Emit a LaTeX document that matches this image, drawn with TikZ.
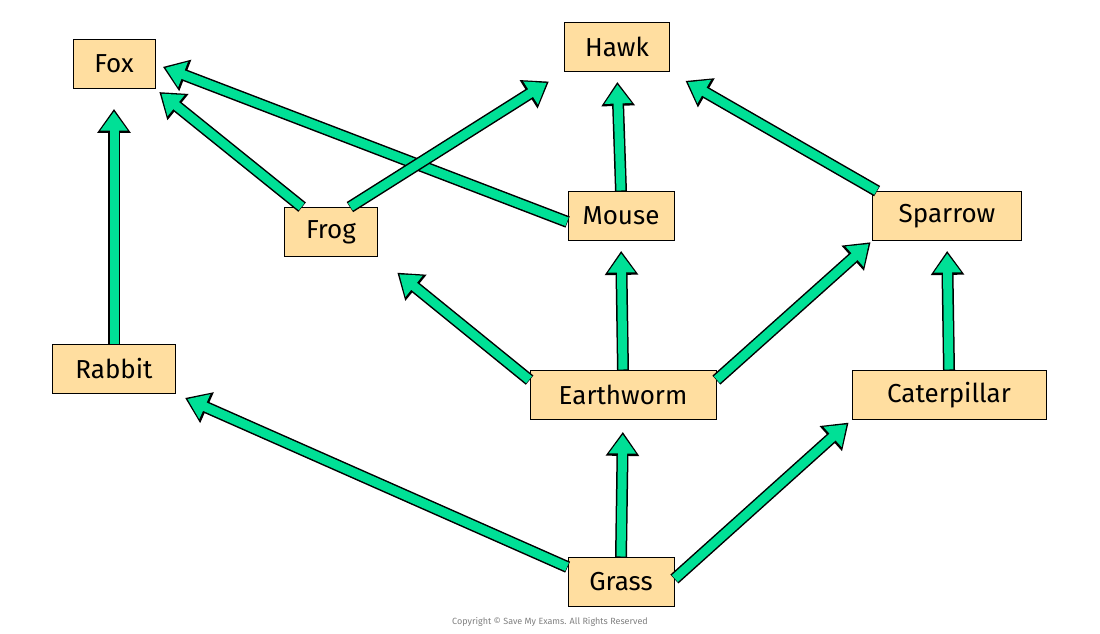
\documentclass[tikz,border=0pt]{standalone}
\usepackage{fontspec}
\setmainfont{Fira Sans}
\usetikzlibrary{arrows.meta,calc}
\definecolor{arrgreen}{RGB}{0,224,150}
\definecolor{boxfill}{RGB}{255,222,160}
\tikzset{
  orgbox/.style={draw=black,line width=0.8pt,fill=boxfill,inner xsep=10pt,inner ysep=0pt,minimum height=49pt,font=\fontsize{26}{26}\selectfont},
  arrout/.style={line width=12pt,black,-{Triangle[length=24pt,width=32pt]}},
  arrin/.style={line width=9pt,arrgreen,-{Triangle[length=19pt,width=26pt]}}
}
\newcommand\foodarrow[3]{%
  \draw[arrout,shorten >=#3pt] #1 -- #2;
  \draw[arrin,shorten >=#3pt+2.6pt,shorten <=0.6pt] #1 -- #2;}
\begin{document}
\begin{tikzpicture}[x=1pt,y=-1pt]
\useasboundingbox (0,0) rectangle (1100,634);
\node[orgbox,minimum width=82pt] (fox) at (114,64) {Fox};
\node[orgbox,minimum width=105pt] (hawk) at (617,47) {Hawk};
\node[orgbox,minimum width=93pt] (frog) at (331,232) {Frog};
\node[orgbox,minimum width=106pt] (mouse) at (621,216) {Mouse};
\node[orgbox,minimum width=149pt] (sparrow) at (947,216) {Sparrow};
\node[orgbox,minimum width=123pt] (rabbit) at (114,369) {Rabbit};
\node[orgbox,minimum width=186pt] (earthworm) at (623,395) {Earthworm};
\node[orgbox,minimum width=194pt] (caterpillar) at (949,395) {Caterpillar};
\node[orgbox,minimum width=106pt] (grass) at (621,582) {Grass};
\node[font=\fontsize{9}{9}\selectfont,text=gray] (copy) at (550,622) {Copyright © Save My Exams. All Rights Reserved};

\foodarrow{(rabbit.north)}{(fox.south)}{20}
\foodarrow{([xshift=18pt]frog.north west)}{(fox.south east)}{5}
\foodarrow{([yshift=-6pt]mouse.west)}{(fox.east)}{8}
\foodarrow{([xshift=-28pt]frog.north east)}{(hawk.south west)}{18}
\foodarrow{(mouse.north)}{(hawk.south)}{10}
\foodarrow{([xshift=5pt]sparrow.north west)}{(hawk.south east)}{18}
\foodarrow{([yshift=-10pt]earthworm.north west)}{(frog.south east)}{25}
\foodarrow{(earthworm.north)}{(mouse.south)}{10}
\foodarrow{([yshift=-10pt]earthworm.north east)}{(sparrow.south west)}{2}
\foodarrow{(caterpillar.north)}{(sparrow.south)}{10}
\foodarrow{([yshift=-10pt]grass.north west)}{(rabbit.south east)}{10}
\foodarrow{(grass.north)}{(earthworm.south)}{12}
\foodarrow{([yshift=3pt]grass.east)}{(caterpillar.south west)}{4}
\end{tikzpicture}
\end{document}
